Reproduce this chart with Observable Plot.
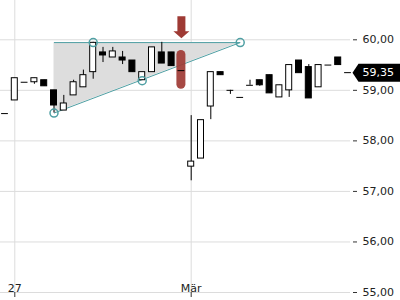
<!DOCTYPE html>
<html><head><meta charset="utf-8">
<script src="https://cdn.jsdelivr.net/npm/d3@7"></script>
<script src="https://cdn.jsdelivr.net/npm/@observablehq/plot@0.6"></script>
<style>body{margin:0;background:#fff}</style>
</head><body><div id="chart"></div>
<script>
// OHLC candles (index-based time axis)
const opens  = [58.54,58.80,59.16,59.16,59.20,59.00,58.60,58.90,59.06,59.36,59.75,59.65,59.65,59.59,59.20,59.36,59.75,59.75,59.39,57.49,57.65,58.68,59.36,59.00,58.86,59.10,59.20,59.30,58.86,59.00,59.59,59.46,59.06,59.50,59.65,59.35];
const highs  = [58.54,59.24,59.16,59.24,59.20,59.00,58.90,59.20,59.40,59.95,59.85,59.85,59.77,59.59,59.36,59.85,59.95,59.75,59.39,58.50,58.41,59.36,59.36,59.00,58.86,59.20,59.20,59.30,59.10,59.50,59.59,59.51,59.50,59.50,59.65,59.35];
const lows   = [58.54,58.80,59.16,59.12,59.08,58.55,58.60,58.90,59.06,59.22,59.55,59.65,59.51,59.36,59.20,59.36,59.53,59.48,59.39,57.21,57.65,58.42,59.30,58.92,58.86,59.10,59.08,58.94,58.86,58.86,59.34,58.84,59.06,59.50,59.50,59.35];
const closes = [58.54,59.24,59.16,59.24,59.08,58.70,58.74,59.16,59.30,59.94,59.69,59.77,59.59,59.36,59.36,59.85,59.53,59.48,59.39,57.59,58.41,59.36,59.30,59.00,58.86,59.10,59.10,58.94,59.10,59.50,59.34,58.84,59.50,59.50,59.50,59.35];

const dayTicks  = [1, 19];
const dayLabels = ["27", "Mär"];
const yTicks    = [55, 56, 57, 58, 59, 60];
const lastPrice = 59.35;

// triangle pattern
const triX     = [5, 24];
const triLow   = [58.55, 59.945];
const triHigh  = [59.945, 59.945];
const pivotX   = [5, 9, 14, 24];
const pivotY   = [58.55, 59.945, 59.19, 59.945];

// signal marker
const signalX    = 18;
const signalLow  = 59.02;
const signalHigh = 59.79;
const signalTip  = 60.03;

const candles = opens.map((o, i) => ({i, o, h: highs[i], l: lows[i], c: closes[i]}));
const up = candles.filter(d => d.c > d.o);
const down = candles.filter(d => d.c < d.o);
const doji = candles.filter(d => d.c === d.o);
const tri = triX.map((x, k) => ({x, lo: triLow[k], hi: triHigh[k]}));
const pivots = pivotX.map((x, k) => ({x, y: pivotY[k]}));
const fmt = v => v.toFixed(2).replace(".", ",");

const arrowSymbol = {draw(ctx) {
  ctx.moveTo(0, 0); ctx.lineTo(-8, -7); ctx.lineTo(-4, -7); ctx.lineTo(-4, -22);
  ctx.lineTo(4, -22); ctx.lineTo(4, -7); ctx.lineTo(8, -7); ctx.closePath();
}};
const tagSymbol = {draw(ctx) {
  ctx.moveTo(0, 0); ctx.lineTo(6, -9); ctx.lineTo(60, -9); ctx.lineTo(60, 9); ctx.lineTo(6, 9); ctx.closePath();
}};

const teal = "#4f9fa3";
const bodyInset = 1.9;

const chart = Plot.plot({
  width: 400, height: 300,
  marginTop: 0, marginBottom: 8, marginLeft: 0, marginRight: 50,
  style: {fontFamily: "DejaVu Sans", fontSize: "11px", color: "#222", background: "white"},
  x: {domain: [-4.5 / 9.8, 345.5 / 9.8]},
  y: {domain: [55, 55 + 292 / 50.54]},
  marks: [
    Plot.ruleY(yTicks, {stroke: "#dcdcdc"}),
    Plot.ruleX(dayTicks, {stroke: "#dcdcdc"}),
    Plot.areaY(tri, {x: "x", y1: "lo", y2: "hi", fill: "#dddddd"}),
    Plot.link(tri.slice(0, 1), {x1: "x", y1: "hi", x2: () => triX[1], y2: () => triHigh[1], stroke: teal}),
    Plot.link(tri.slice(0, 1), {x1: "x", y1: "lo", x2: () => triX[1], y2: () => triLow[1], stroke: teal}),
    Plot.rect([signalX], {x1: d => d - 0.5, x2: d => d + 0.5, y1: () => signalLow, y2: () => signalHigh,
      insetLeft: 0.4, insetRight: 0.4, rx: 4.5, fill: "#9e3a34", fillOpacity: 0.92}),
    Plot.ruleX(candles, {x: "i", y1: "l", y2: "h", stroke: "black"}),
    Plot.rect(up, {x1: d => d.i - 0.5, x2: d => d.i + 0.5, y1: "o", y2: "c",
      insetLeft: bodyInset, insetRight: bodyInset, fill: "white", stroke: "black"}),
    Plot.rect(down, {x1: d => d.i - 0.5, x2: d => d.i + 0.5, y1: "o", y2: "c",
      insetLeft: bodyInset, insetRight: bodyInset, fill: "black", stroke: "black"}),
    Plot.ruleY(doji, {y: "o", x1: d => d.i - 0.5, x2: d => d.i + 0.5,
      insetLeft: 1.5, insetRight: 1.5, stroke: "black"}),
    Plot.dot(pivots, {x: "x", y: "y", r: 4, stroke: teal, fill: "none"}),
    Plot.dot([signalX], {x: d => d, y: () => signalTip, symbol: arrowSymbol, fill: "#9e3a34", stroke: "none"}),
    Plot.axisX(dayTicks, {anchor: "bottom", tickSize: 5, tickFormat: () => "", label: null, stroke: "#333"}),
    Plot.text(dayTicks, {x: d => d, frameAnchor: "bottom", lineAnchor: "bottom", dy: -1,
      text: (d, k) => dayLabels[k], fill: "#222"}),
    Plot.axisY(yTicks, {anchor: "right", tickSize: 4, tickPadding: 6, dx: 2, tickFormat: fmt, label: null, stroke: "#333"}),
    Plot.dot([lastPrice], {y: d => d, frameAnchor: "right", dx: 2, symbol: tagSymbol, fill: "black", stroke: "none"}),
    Plot.text([lastPrice], {y: d => d, frameAnchor: "right", dx: 12, textAnchor: "start", text: fmt, fill: "white"})
  ]
});
document.getElementById("chart").appendChild(chart);
</script>
</body></html>
